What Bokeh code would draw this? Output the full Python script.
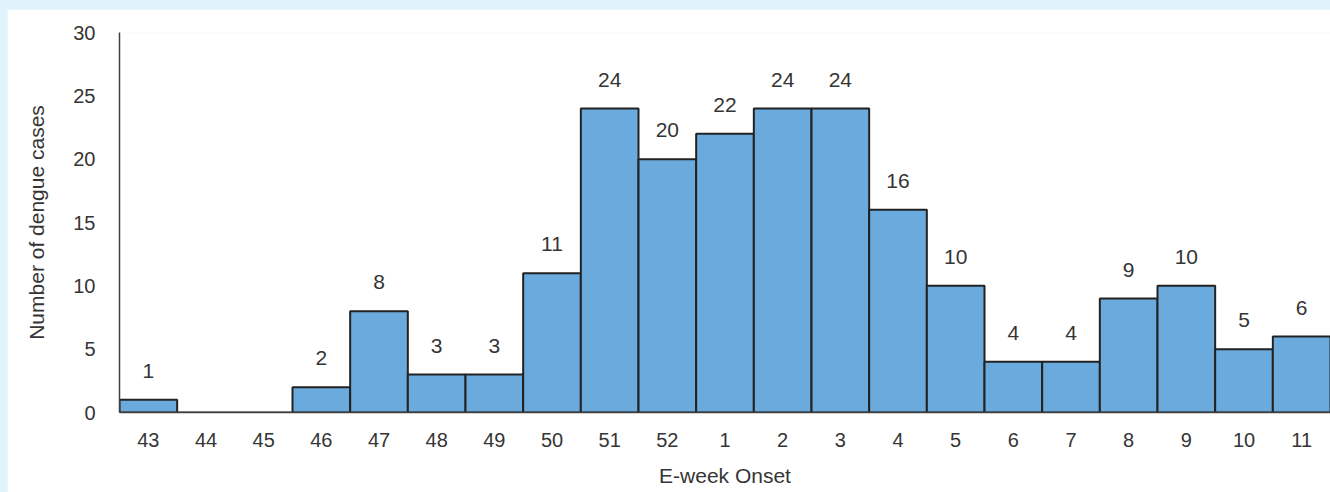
from bokeh.plotting import figure
from bokeh.models import ColumnDataSource, FactorRange, Range1d, FixedTicker
from bokeh.core.properties import value
from bokeh.embed import file_html
from bokeh.resources import INLINE

weeks = ["43", "44", "45", "46", "47", "48", "49", "50", "51", "52",
         "1", "2", "3", "4", "5", "6", "7", "8", "9", "10", "11"]
cases = [1, 0, 0, 2, 8, 3, 3, 11, 24, 20, 22, 24, 24, 16, 10, 4, 4, 9, 10, 5, 6]
y_ticks = [0, 5, 10, 15, 20, 25, 30]

FONT = "Liberation Sans"
TXT = "#353535"
FS = "20px"
FS_LAB = "21px"

src = ColumnDataSource(dict(week=weeks, cases=cases))
lab_weeks = [w for w, c in zip(weeks, cases) if c > 0]
lab_vals = [c for c in cases if c > 0]
lab_src = ColumnDataSource(dict(week=lab_weeks, cases=lab_vals, txt=[str(v) for v in lab_vals]))

p = figure(x_range=FactorRange(*weeks, range_padding=0), y_range=Range1d(0, 30),
           width=1323, height=483, output_backend="svg", toolbar_location=None,
           min_border_left=112, min_border_right=0, min_border_top=23, min_border_bottom=80)
p.margin = (9, 0, 0, 7)
p.outline_line_color = None
p.background_fill_color = "white"
p.border_fill_color = "white"
p.grid.grid_line_color = None

p.vbar(x="week", top="cases", width=1.0, source=src, fill_color="#6aaadd",
       line_color="#222222", line_width=2)
p.text(x="week", y="cases", text="txt", source=lab_src, text_align="center",
       text_baseline="bottom", y_offset=-22, text_font=value(FONT), text_font_size=FS_LAB,
       text_color=TXT)

for ax in (p.xaxis[0], p.yaxis[0]):
    ax.major_tick_line_color = None
    ax.minor_tick_line_color = None
    ax.axis_line_color = "#404040"
    ax.axis_line_width = 1.5
    ax.major_label_text_font = FONT
    ax.major_label_text_font_size = FS
    ax.major_label_text_color = TXT
    ax.axis_label_text_font = FONT
    ax.axis_label_text_font_size = FS_LAB
    ax.axis_label_text_font_style = "normal"
    ax.axis_label_text_color = TXT

p.yaxis.ticker = FixedTicker(ticks=y_ticks)
p.yaxis.major_label_standoff = 18
p.yaxis.axis_label = "Number of dengue cases"
p.yaxis.axis_label_standoff = 22
p.xaxis.major_label_standoff = 14
p.xaxis.axis_label = "E-week Onset"
p.xaxis.axis_label_standoff = 14

html = file_html(p, INLINE)
html = html.replace("</head>", "<style>html,body{margin:0;background:#e0f2fb;}</style></head>", 1)
open("out.html", "w").write(html)
